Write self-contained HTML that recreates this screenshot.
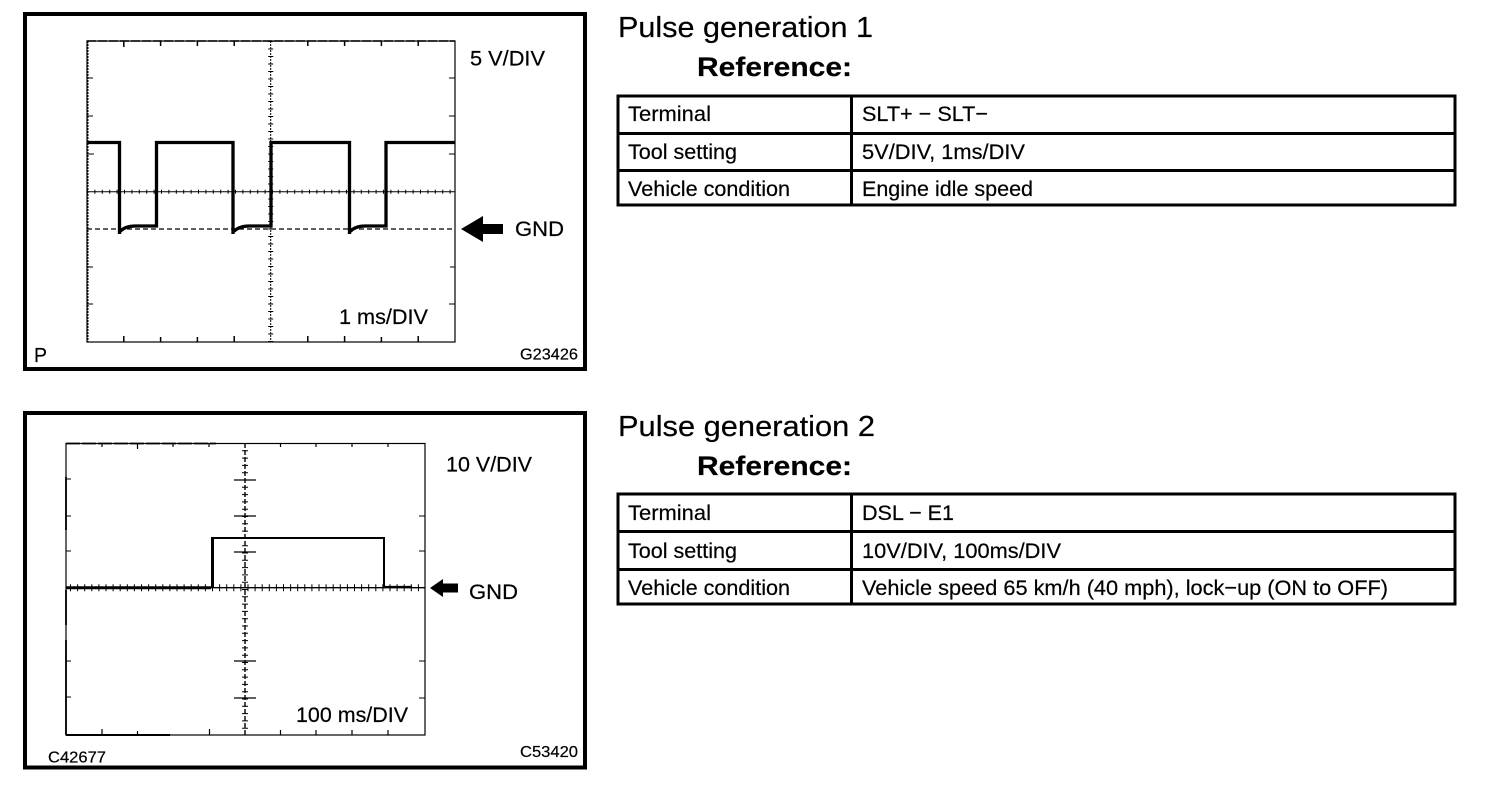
<!DOCTYPE html>
<html><head><meta charset="utf-8"><style>
html,body{margin:0;padding:0;background:#fff;width:1504px;height:788px;overflow:hidden}
svg{display:block}
text{font-family:"Liberation Sans",sans-serif;fill:#000;stroke:#000;stroke-width:.2px}
.h{font-size:29px}.b{font-size:27px;font-weight:bold}.t{font-size:21.5px}.s{font-size:15.5px}
</style></head><body>
<svg width="1504" height="788" viewBox="0 0 1504 788" xmlns="http://www.w3.org/2000/svg" fill="none" stroke="#000">
<!-- frames -->
<rect x="25" y="14" width="560" height="355" stroke-width="4"/>
<rect x="25" y="413" width="560" height="354.500" stroke-width="4"/>

<!-- scope 1 -->
<rect x="87" y="41" width="368" height="301" stroke-width="1.200"/>
<path d="M87.500 41V342" stroke-width="2" stroke-dasharray="2 1"/>
<path d="M87 41H455" stroke-width="1.600" stroke-dasharray="9 2"/>
<path d="M123.800 41V47M160.600 41V46M197.400 41V46M234.200 41V46M307.800 41V46M344.600 41V46M381.400 41V46M418.200 41V46" stroke-width="1.500"/>
<path d="M123.800 336V342M160.600 337V342M197.400 337V342M234.200 336V342M307.800 336V342M344.600 336V342M381.400 337V342M418.200 336V342" stroke-width="1.500"/>
<path d="M87 78H93M87 116H93M87 154H94M87 267H93M87 304H93M449 78H455M449 116H455M449 154H455M450 267H455M449 304H455" stroke-width="1"/>
<path d="M270.700 41V342" stroke-width="1" stroke-dasharray="2 1"/>
<path d="M270.700 41V342" stroke-width="5" stroke-dasharray="1 6.500"/>
<path d="M87 191.700H455" stroke-width="1"/>
<path d="M87 191.700H455" stroke-width="4" stroke-dasharray="1 6.400"/>
<path d="M87 229H455" stroke-width="1.300" stroke-dasharray="5 3"/>
<path d="M87 142.500H119.500V234M119.500 232Q125 226 135 226H156.500V142.500H233V234M233 232Q239 226 249 226H271V142.500H349.500V234M349.500 232Q355 226 365 226H386V142.500H455" stroke-width="3.300"/>
<path d="M461 229L483 216V224H503V234H483V242Z" fill="#000" stroke="none"/>

<text x="470" y="65.500" class="t" textLength="75" lengthAdjust="spacingAndGlyphs">5 V/DIV</text>
<text x="515" y="236" class="t" textLength="49" lengthAdjust="spacingAndGlyphs">GND</text>
<text x="339" y="324" class="t" textLength="89" lengthAdjust="spacingAndGlyphs">1 ms/DIV</text>
<text x="520" y="359.500" class="s" textLength="58" lengthAdjust="spacingAndGlyphs">G23426</text>
<text x="34" y="362" font-size="20" textLength="13" lengthAdjust="spacingAndGlyphs">P</text>

<!-- scope 2 -->
<rect x="66" y="443.500" width="359" height="291.500" stroke-width="1.200"/>
<path d="M66 443.500H216" stroke-width="1.800" stroke-dasharray="14 2"/>
<path d="M66 477V530M66 590V625M66 640V735" stroke-width="1.800"/>
<path d="M66 735H170" stroke-width="2"/>
<path d="M102 443V447M137.500 443V449M173 443V447M209 443V447M280.500 443V447M316 443V447M352 443V447M388 443V447" stroke-width="1.200"/>
<path d="M102 729V735M137.500 731V735M209.500 729V735M280.500 730V735M316 730V735M352 730V735M388 730V735" stroke-width="1.200"/>
<path d="M66 479H71M66 516H71M66 551H71M66 661H71M66 697H71M419 516H425M419 551H425M419 661H425M419 698H425" stroke-width="1"/>
<path d="M245 443V735" stroke-width="1.400" stroke-dasharray="5 2"/>
<path d="M245 443V735" stroke-width="6" stroke-dasharray="1 6.300"/>
<path d="M234 480H256M234 516H256M234 552H256M234 661H256M234 698H256" stroke-width="1.200"/>
<path d="M66 587.700H425" stroke-width="1.300"/>
<path d="M66 587.700H211" stroke-width="3"/>
<path d="M70 587.700H425" stroke-width="7" stroke-dasharray="1 6.100"/>
<path d="M212 587.700V538H384V587.700" stroke-width="2"/>
<path d="M212.500 587.700V538" stroke-width="3"/>
<path d="M384 587H412" stroke-width="2.200"/>
<path d="M430 588L443 579V583.500H458V592.500H443V597Z" fill="#000" stroke="none"/>

<text x="446" y="471.500" class="t" textLength="86" lengthAdjust="spacingAndGlyphs">10 V/DIV</text>
<text x="469" y="599" class="t" textLength="49" lengthAdjust="spacingAndGlyphs">GND</text>
<text x="296" y="722" class="t" textLength="112" lengthAdjust="spacingAndGlyphs">100 ms/DIV</text>
<text x="520" y="757" class="s" textLength="58" lengthAdjust="spacingAndGlyphs">C53420</text>
<text x="48" y="762.500" class="s" textLength="58" lengthAdjust="spacingAndGlyphs">C42677</text>

<!-- heading + table 1 -->
<text x="618" y="37" class="h" textLength="255" lengthAdjust="spacingAndGlyphs">Pulse generation 1</text>
<text x="697" y="76" class="b" textLength="155" lengthAdjust="spacingAndGlyphs">Reference:</text>
<rect x="618" y="96" width="837" height="109" stroke-width="3"/>
<path d="M851.500 96V205M618 133.500H1455M618 170.500H1455" stroke-width="3"/>
<text x="628" y="121" class="t" textLength="83" lengthAdjust="spacingAndGlyphs">Terminal</text>
<text x="628" y="159" class="t" textLength="109" lengthAdjust="spacingAndGlyphs">Tool setting</text>
<text x="628" y="196" class="t" textLength="162" lengthAdjust="spacingAndGlyphs">Vehicle condition</text>
<text x="862" y="121" class="t" textLength="126" lengthAdjust="spacingAndGlyphs">SLT+ − SLT−</text>
<text x="862" y="159" class="t" textLength="163" lengthAdjust="spacingAndGlyphs">5V/DIV, 1ms/DIV</text>
<text x="862" y="196" class="t" textLength="171" lengthAdjust="spacingAndGlyphs">Engine idle speed</text>

<!-- heading + table 2 -->
<text x="618" y="436" class="h" textLength="257" lengthAdjust="spacingAndGlyphs">Pulse generation 2</text>
<text x="697" y="475" class="b" textLength="155" lengthAdjust="spacingAndGlyphs">Reference:</text>
<rect x="618" y="494" width="837" height="110" stroke-width="3"/>
<path d="M851.500 494V604M618 531.500H1455M618 569.500H1455" stroke-width="3"/>
<text x="628" y="520" class="t" textLength="83" lengthAdjust="spacingAndGlyphs">Terminal</text>
<text x="628" y="558" class="t" textLength="109" lengthAdjust="spacingAndGlyphs">Tool setting</text>
<text x="628" y="595" class="t" textLength="162" lengthAdjust="spacingAndGlyphs">Vehicle condition</text>
<text x="862" y="520" class="t" textLength="92" lengthAdjust="spacingAndGlyphs">DSL − E1</text>
<text x="862" y="558" class="t" textLength="199" lengthAdjust="spacingAndGlyphs">10V/DIV, 100ms/DIV</text>
<text x="862" y="595" class="t" textLength="526" lengthAdjust="spacingAndGlyphs">Vehicle speed 65 km/h (40 mph), lock−up (ON to OFF)</text>
</svg>
</body></html>
